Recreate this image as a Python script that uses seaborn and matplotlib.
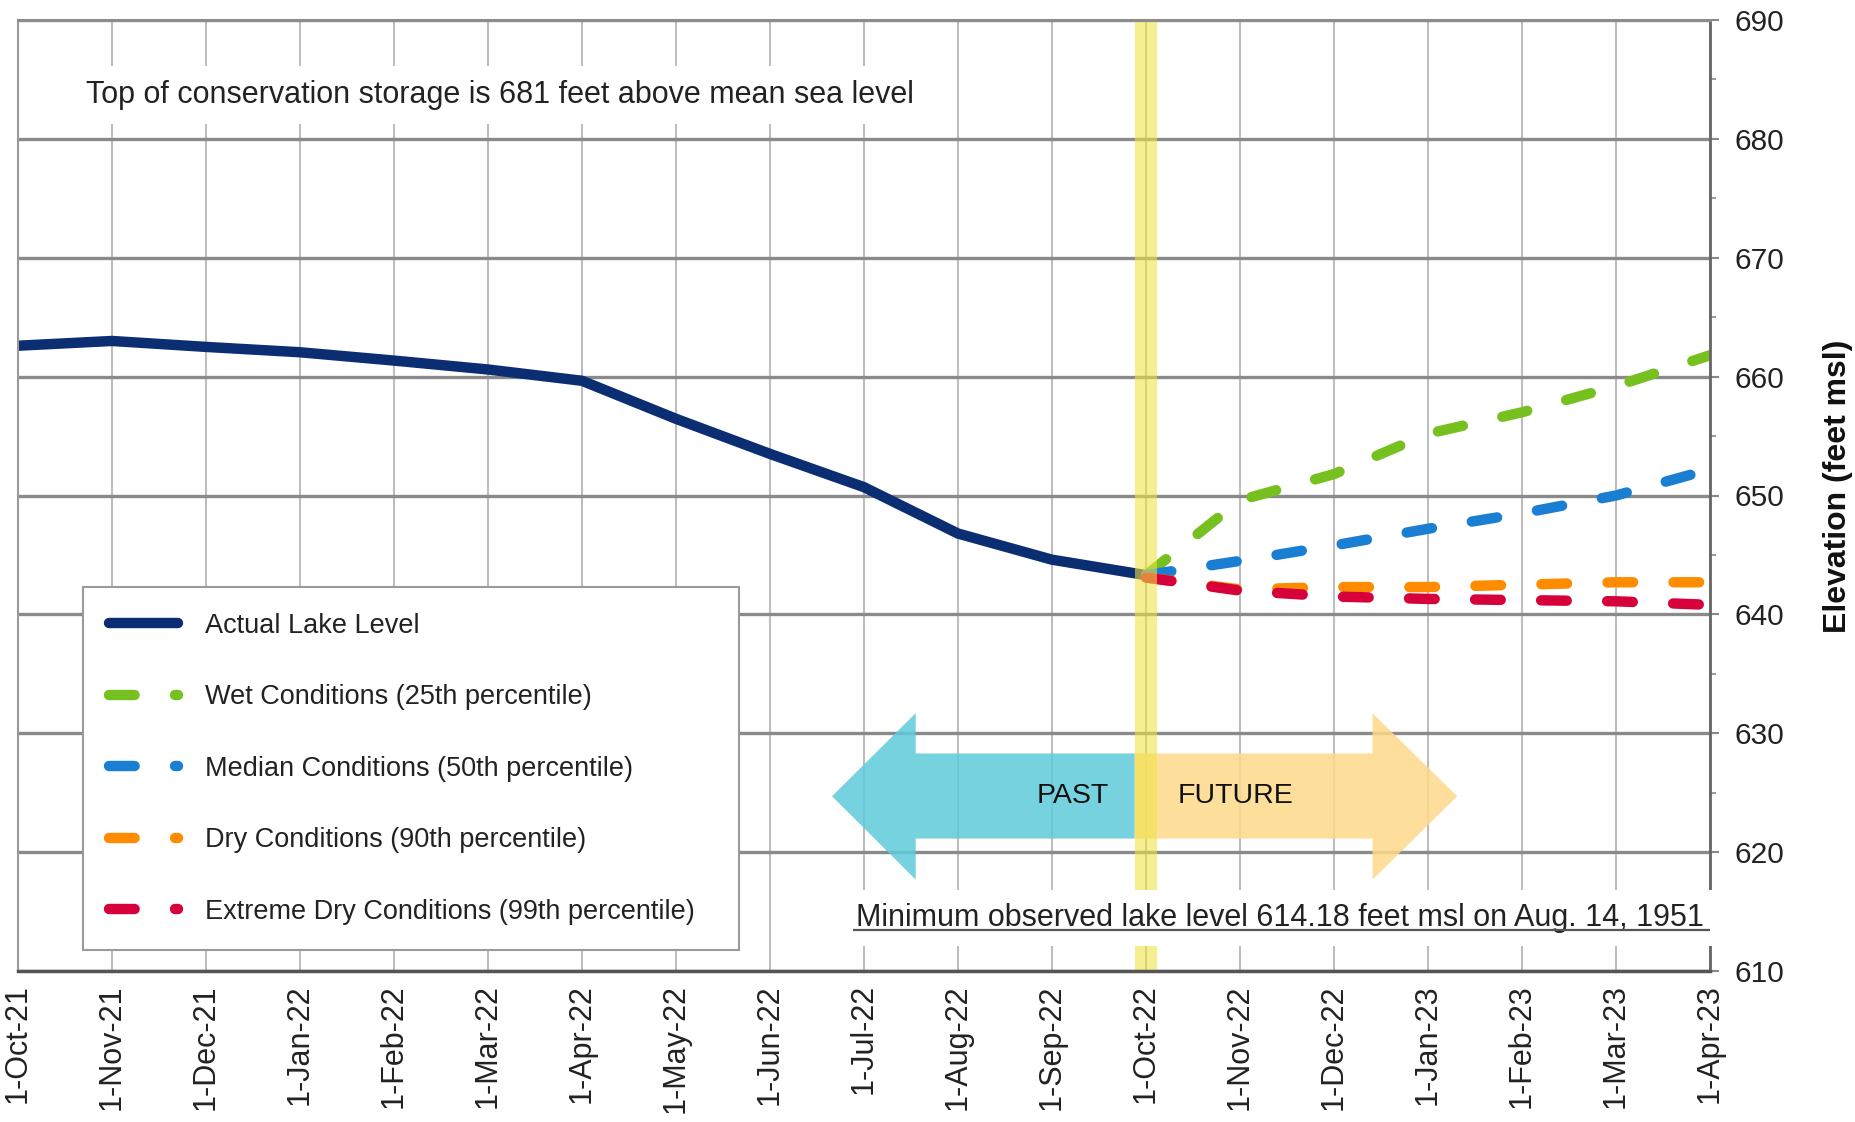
import numpy as np
import pandas as pd
import matplotlib
matplotlib.use("Agg")
import matplotlib.pyplot as plt
from matplotlib.patches import Polygon
from matplotlib.ticker import MultipleLocator
import seaborn as sns

# ---------------- data ----------------
month_labels = ['1-Oct-21', '1-Nov-21', '1-Dec-21', '1-Jan-22', '1-Feb-22', '1-Mar-22',
                '1-Apr-22', '1-May-22', '1-Jun-22', '1-Jul-22', '1-Aug-22', '1-Sep-22',
                '1-Oct-22', '1-Nov-22', '1-Dec-22', '1-Jan-23', '1-Feb-23', '1-Mar-23',
                '1-Apr-23']
actual_months = month_labels[0:13]
actual_level = [662.6, 663.0, 662.5, 662.05, 661.35, 660.6, 659.65, 656.45,
                653.5, 650.7, 646.8, 644.6, 643.3]
proj_months = month_labels[12:19]
wet_level = [643.3, 649.6, 651.8, 655.2, 657.0, 659.2, 661.8]
median_level = [643.3, 644.5, 645.8, 647.2, 648.5, 650.0, 652.2]
dry_level = [643.1, 642.1, 642.3, 642.3, 642.5, 642.7, 642.7]
extreme_level = [643.1, 642.0, 641.5, 641.3, 641.2, 641.1, 640.8]

series_labels = ['Actual Lake Level', 'Wet Conditions (25th percentile)',
                 'Median Conditions (50th percentile)', 'Dry Conditions (90th percentile)',
                 'Extreme Dry Conditions (99th percentile)']
series_colors = ['#0b2d72', '#76c01f', '#1a7fd2', '#ff8c00', '#d6003b']

y_ticks = [610, 620, 630, 640, 650, 660, 670, 680, 690]
top_note = 'Top of conservation storage is 681 feet above mean sea level'
min_note = 'Minimum observed lake level 614.18 feet msl on Aug. 14, 1951'
min_level = 613.45
now_label = '1-Oct-22'

# ---------------- style ----------------
sns.set_style('white')
plt.rcParams['font.family'] = ['Liberation Sans', 'DejaVu Sans']

pos = {m: i for i, m in enumerate(month_labels)}

fig = plt.figure(figsize=(18.56, 11.22), dpi=100)
ax = fig.add_axes([18 / 1856, 1 - 971 / 1122, 1692 / 1856, 951 / 1122])

LW = 7.5
DASH = (0, (2.46, 3.88))

act_df = pd.DataFrame({'x': [pos[m] for m in actual_months], 'y': actual_level})
sns.lineplot(data=act_df, x='x', y='y', ax=ax, color=series_colors[0], lw=LW,
             solid_capstyle='round', solid_joinstyle='round', sort=False, zorder=2)

for vals, col in zip([wet_level, median_level, dry_level, extreme_level], series_colors[1:]):
    df = pd.DataFrame({'x': [pos[m] for m in proj_months], 'y': vals})
    sns.lineplot(data=df, x='x', y='y', ax=ax, color=col, lw=LW, linestyle=DASH,
                 dash_capstyle='round', dash_joinstyle='round', sort=False, zorder=2.1)

handles = list(ax.lines[:5])

# axes limits & ticks
ax.set_xlim(0, len(month_labels) - 1)
ax.set_ylim(y_ticks[0], y_ticks[-1])
ax.set_xticks(range(len(month_labels)))
ax.set_xticklabels(month_labels, rotation=90)
ax.set_yticks(y_ticks)
ax.yaxis.set_minor_locator(MultipleLocator(5))
ax.yaxis.tick_right()
ax.yaxis.set_label_position('right')
ax.set_xlabel('')
ax.set_ylabel('Elevation (feet msl)', fontsize=23, fontweight='bold', color='#111111')
ax.yaxis.set_label_coords(1.0757, 0.51)
ax.yaxis.label.set_va('center')

ax.tick_params(axis='x', direction='out', length=6.5, width=1.5, color='#888888',
               labelsize=22, pad=3, labelcolor='#222222')
ax.tick_params(axis='y', which='major', direction='out', length=6.5, width=1.5,
               color='#888888', labelsize=21.5, pad=11, labelcolor='#222222',
               right=True, left=False)
ax.tick_params(axis='y', which='minor', direction='out', length=4.5, width=1.2,
               color='#888888', right=True, left=False)

ax.set_axisbelow(True)
ax.grid(axis='x', which='major', color='#bdbdbd', lw=1.5)
ax.grid(axis='y', which='major', color='#8a8a8a', lw=2.4)

for side, col, lw in [('top', '#8c8c8c', 2.2), ('left', '#9a9a9a', 1.5),
                      ('bottom', '#555555', 2.5), ('right', '#666666', 2.0)]:
    ax.spines[side].set_visible(True)
    ax.spines[side].set_color(col)
    ax.spines[side].set_linewidth(lw)

# yellow "now" band
now = pos[now_label]
ax.axvspan(now - 0.12, now + 0.12, color='#f0e442', alpha=0.58, lw=0, zorder=2.5)

# PAST / FUTURE arrows
body_lo, body_hi = 621.14, 628.30
head_lo, head_hi = 617.69, 631.69
mid = 624.7
past_tip, past_base = 8.66, 9.55
fut_base, fut_tip = 14.41, 15.31
start = now - 0.12
past_poly = [(start, body_lo), (past_base, body_lo), (past_base, head_lo), (past_tip, mid),
             (past_base, head_hi), (past_base, body_hi), (start, body_hi)]
fut_poly = [(start, body_lo), (fut_base, body_lo), (fut_base, head_lo), (fut_tip, mid),
            (fut_base, head_hi), (fut_base, body_hi), (start, body_hi)]
ax.add_patch(Polygon(past_poly, closed=True, facecolor='#5fcadb', edgecolor='none',
                     alpha=0.85, zorder=1.5))
ax.add_patch(Polygon(fut_poly, closed=True, facecolor='#fdd98a', edgecolor='none',
                     alpha=0.85, zorder=1.5))
ax.text(11.22, mid, 'PAST', fontsize=20.5, ha='center', va='center', color='#111111', zorder=3)
ax.text(12.95, mid, 'FUTURE', fontsize=20.5, ha='center', va='center', color='#111111', zorder=3)

# annotations
ax.text(0.72, 683.7, top_note, fontsize=22, ha='left', va='center', color='#222222',
        bbox=dict(boxstyle='square,pad=0.45', facecolor='white', edgecolor='none'), zorder=3)
ax.text(17.93, 613.8, min_note, fontsize=22, ha='right', va='baseline', color='#222222',
        bbox=dict(boxstyle='square,pad=0.42', facecolor='white', edgecolor='none'), zorder=3)
ax.plot([8.88, 18.0], [min_level, min_level], color='#555555', lw=1.6, zorder=4,
        solid_capstyle='butt')

# legend
leg = ax.legend(handles=handles, labels=series_labels, loc='upper left',
                bbox_to_anchor=(0.0384, 0.0252, 0.388, 0.3788), mode='expand',
                fontsize=19.5, handlelength=2.57, handletextpad=0.98, borderpad=0.95,
                labelspacing=1.68, borderaxespad=0, frameon=True, fancybox=False,
                framealpha=1, facecolor='white', edgecolor='#9a9a9a')
leg.get_frame().set_linewidth(1.5)
leg.set_zorder(5)
for t in leg.get_texts():
    t.set_color('#222222')

fig.savefig('out.png', dpi=100, facecolor='white')
